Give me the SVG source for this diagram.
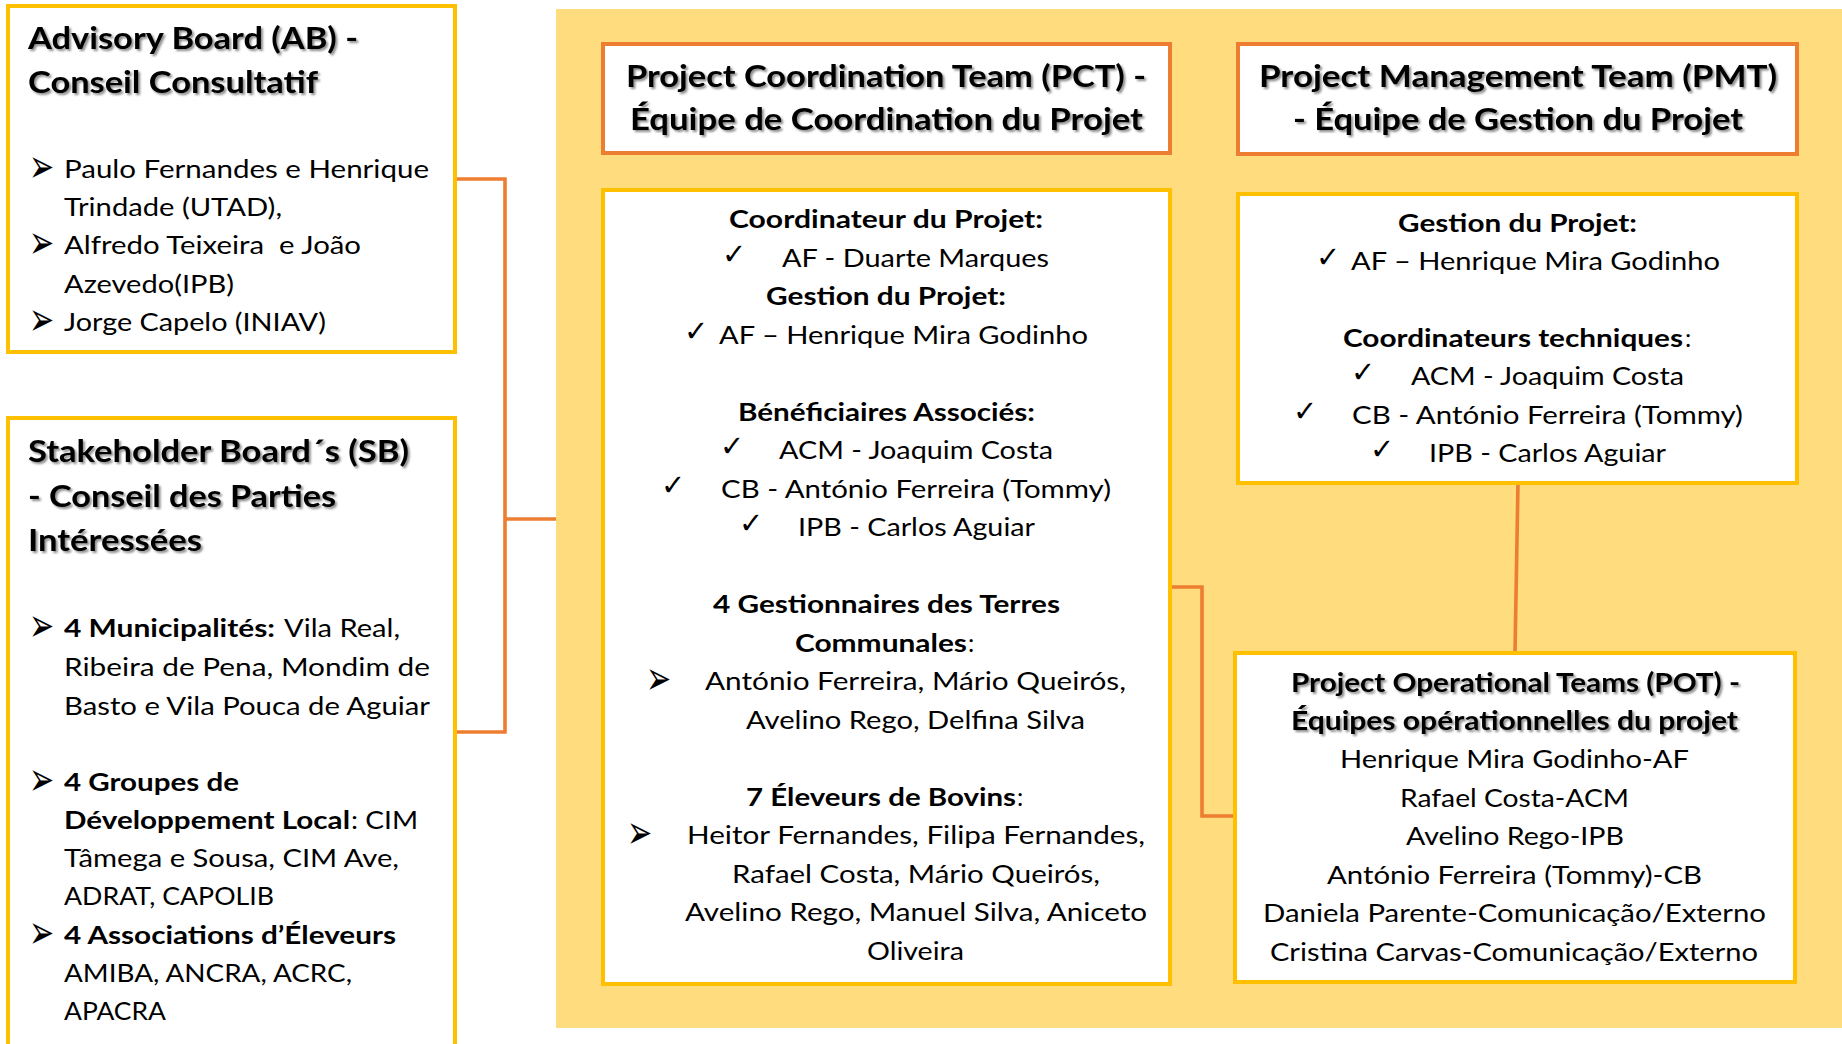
<svg xmlns="http://www.w3.org/2000/svg" width="1842" height="1044" viewBox="0 0 1842 1044">
<defs>
<filter id="sh" x="-5%" y="-30%" width="110%" height="160%">
<feDropShadow dx="2" dy="2" stdDeviation="1.3" flood-color="#000" flood-opacity="0.45"/>
</filter>
<style>
.t{font-family:Lato,'Liberation Sans',sans-serif;fill:#000;font-size:25px}
.b{font-weight:bold}
.h{font-weight:bold;font-size:30px;filter:url(#sh)}
.hp{font-weight:bold;font-size:26.5px;filter:url(#sh)}
.s{font-family:'DejaVu Sans',sans-serif;font-size:30px;fill:#000}
.k{font-family:'DejaVu Sans',sans-serif;font-size:29px;fill:#000}
.gold{fill:#fff;stroke:#FFC000;stroke-width:4}
.orng{fill:#fff;stroke:#ED7D31;stroke-width:4}
.c{fill:none;stroke:#ED7D31;stroke-width:3.6}
</style>
</defs>
<rect width="1842" height="1044" fill="#fff"/>
<g id="background">
<rect x="556" y="9" width="1300" height="1019" fill="#FFDC7E"/>
</g>
<g id="connectors">
<polyline class="c" points="455,179 505,179 505,732 455,732"/>
<line class="c" x1="505" y1="519" x2="556" y2="519"/>
<polyline class="c" points="1170,587 1202,587 1202,816 1235,816"/>
<line class="c" x1="1518" y1="483" x2="1515" y2="653"/>
</g>
<g id="advisory-board">
<rect class="gold" x="8" y="6" width="447" height="346"/>
<text class="t h" x="28" y="49" textLength="330" lengthAdjust="spacingAndGlyphs">Advisory Board (AB) -</text>
<text class="t h" x="28" y="93" textLength="290" lengthAdjust="spacingAndGlyphs">Conseil Consultatif</text>
<text class="s" transform="translate(29,182) scale(1,1.55)">➢</text>
<text class="t" x="64" y="178" textLength="365" lengthAdjust="spacingAndGlyphs">Paulo Fernandes e Henrique</text>
<text class="t" x="64" y="216" textLength="218" lengthAdjust="spacingAndGlyphs">Trindade (UTAD),</text>
<text class="s" transform="translate(29,258) scale(1,1.55)">➢</text>
<text class="t" x="64" y="254" textLength="297" lengthAdjust="spacingAndGlyphs" style="white-space:pre">Alfredo Teixeira  e João</text>
<text class="t" x="64" y="293" textLength="170" lengthAdjust="spacingAndGlyphs">Azevedo(IPB)</text>
<text class="s" transform="translate(29,335) scale(1,1.55)">➢</text>
<text class="t" x="64" y="331" textLength="262" lengthAdjust="spacingAndGlyphs">Jorge Capelo (INIAV)</text>
</g>
<g id="stakeholder-board">
<rect class="gold" x="8" y="418" width="447" height="700"/>
<text class="t h" x="28" y="462" textLength="381" lengthAdjust="spacingAndGlyphs">Stakeholder Board´s (SB)</text>
<text class="t h" x="28" y="507" textLength="308" lengthAdjust="spacingAndGlyphs">- Conseil des Parties</text>
<text class="t h" x="28" y="551" textLength="174" lengthAdjust="spacingAndGlyphs">Intéressées</text>
<text class="s" transform="translate(29,641) scale(1,1.55)">➢</text>
<text class="t b" x="64" y="637" textLength="211" lengthAdjust="spacingAndGlyphs">4 Municipalités:</text>
<text class="t" x="284" y="637" textLength="116" lengthAdjust="spacingAndGlyphs">Vila Real,</text>
<text class="t" x="64" y="676" textLength="366" lengthAdjust="spacingAndGlyphs">Ribeira de Pena, Mondim de</text>
<text class="t" x="64" y="715" textLength="366" lengthAdjust="spacingAndGlyphs">Basto e Vila Pouca de Aguiar</text>
<text class="s" transform="translate(29,795) scale(1,1.55)">➢</text>
<text class="t b" x="64" y="791" textLength="175" lengthAdjust="spacingAndGlyphs">4 Groupes de</text>
<text class="t b" x="64" y="829" textLength="286" lengthAdjust="spacingAndGlyphs">Développement Local</text>
<text class="t" x="351" y="829" textLength="67" lengthAdjust="spacingAndGlyphs">: CIM</text>
<text class="t" x="64" y="867" textLength="335" lengthAdjust="spacingAndGlyphs">Tâmega e Sousa, CIM Ave,</text>
<text class="t" x="64" y="905" textLength="210" lengthAdjust="spacingAndGlyphs">ADRAT, CAPOLIB</text>
<text class="s" transform="translate(29,948) scale(1,1.55)">➢</text>
<text class="t b" x="64" y="944" textLength="332" lengthAdjust="spacingAndGlyphs">4 Associations d’Éleveurs</text>
<text class="t" x="64" y="982" textLength="288" lengthAdjust="spacingAndGlyphs">AMIBA, ANCRA, ACRC,</text>
<text class="t" x="64" y="1020" textLength="102" lengthAdjust="spacingAndGlyphs">APACRA</text>
</g>
<g id="pct-header">
<rect class="orng" x="603" y="44" width="567" height="109"/>
<text class="t h" x="626" y="87" textLength="520" lengthAdjust="spacingAndGlyphs">Project Coordination Team (PCT) -</text>
<text class="t h" x="630" y="130" textLength="513" lengthAdjust="spacingAndGlyphs">Équipe de Coordination du Projet</text>
</g>
<g id="pct-body">
<rect class="gold" x="603" y="190" width="567" height="794"/>
<text class="t b" x="729" y="228" textLength="314" lengthAdjust="spacingAndGlyphs">Coordinateur du Projet:</text>
<text class="k" x="722" y="264">✓</text>
<text class="t" x="782" y="267" textLength="267" lengthAdjust="spacingAndGlyphs">AF - Duarte Marques</text>
<text class="t b" x="766" y="305" textLength="240" lengthAdjust="spacingAndGlyphs">Gestion du Projet:</text>
<text class="k" x="684" y="340.5">✓</text>
<text class="t" x="719" y="343.5" textLength="369" lengthAdjust="spacingAndGlyphs">AF – Henrique Mira Godinho</text>
<text class="t b" x="738" y="420.5" textLength="297" lengthAdjust="spacingAndGlyphs">Bénéficiaires Associés:</text>
<text class="k" x="720" y="456">✓</text>
<text class="t" x="779" y="459" textLength="274" lengthAdjust="spacingAndGlyphs">ACM - Joaquim Costa</text>
<text class="k" x="661" y="494.5">✓</text>
<text class="t" x="721" y="497.5" textLength="390" lengthAdjust="spacingAndGlyphs">CB - António Ferreira (Tommy)</text>
<text class="k" x="739" y="533">✓</text>
<text class="t" x="798" y="536" textLength="237" lengthAdjust="spacingAndGlyphs">IPB - Carlos Aguiar</text>
<text class="t b" x="713" y="613" textLength="347" lengthAdjust="spacingAndGlyphs">4 Gestionnaires des Terres</text>
<text class="t b" x="795" y="651.5" textLength="172" lengthAdjust="spacingAndGlyphs">Communales</text>
<text class="t" x="968" y="651.5">:</text>
<text class="s" transform="translate(646,694) scale(1,1.55)">➢</text>
<text class="t" x="705" y="690" textLength="421" lengthAdjust="spacingAndGlyphs">António Ferreira, Mário Queirós,</text>
<text class="t" x="746" y="728.5" textLength="339" lengthAdjust="spacingAndGlyphs">Avelino Rego, Delfina Silva</text>
<text class="t b" x="746" y="805.5" textLength="270" lengthAdjust="spacingAndGlyphs">7 Éleveurs de Bovins</text>
<text class="t" x="1017" y="805.5">:</text>
<text class="s" transform="translate(627,848) scale(1,1.55)">➢</text>
<text class="t" x="687" y="844" textLength="458" lengthAdjust="spacingAndGlyphs">Heitor Fernandes, Filipa Fernandes,</text>
<text class="t" x="732" y="882.5" textLength="368" lengthAdjust="spacingAndGlyphs">Rafael Costa, Mário Queirós,</text>
<text class="t" x="685" y="921" textLength="462" lengthAdjust="spacingAndGlyphs">Avelino Rego, Manuel Silva, Aniceto</text>
<text class="t" x="867" y="959.5" textLength="97" lengthAdjust="spacingAndGlyphs">Oliveira</text>
</g>
<g id="pmt-header">
<rect class="orng" x="1238" y="44" width="559" height="110"/>
<text class="t h" x="1259" y="87" textLength="518" lengthAdjust="spacingAndGlyphs">Project Management Team (PMT)</text>
<text class="t h" x="1293" y="130" textLength="450" lengthAdjust="spacingAndGlyphs">- Équipe de Gestion du Projet</text>
</g>
<g id="pmt-body">
<rect class="gold" x="1238" y="194" width="559" height="289"/>
<text class="t b" x="1398" y="232" textLength="239" lengthAdjust="spacingAndGlyphs">Gestion du Projet:</text>
<text class="k" x="1316" y="267">✓</text>
<text class="t" x="1351" y="270" textLength="369" lengthAdjust="spacingAndGlyphs">AF – Henrique Mira Godinho</text>
<text class="t b" x="1343" y="347" textLength="340" lengthAdjust="spacingAndGlyphs">Coordinateurs techniques</text>
<text class="t" x="1685" y="347">:</text>
<text class="k" x="1351" y="382">✓</text>
<text class="t" x="1411" y="385" textLength="273" lengthAdjust="spacingAndGlyphs">ACM - Joaquim Costa</text>
<text class="k" x="1293" y="420.5">✓</text>
<text class="t" x="1352" y="423.5" textLength="391" lengthAdjust="spacingAndGlyphs">CB - António Ferreira (Tommy)</text>
<text class="k" x="1370" y="459">✓</text>
<text class="t" x="1429" y="462" textLength="237" lengthAdjust="spacingAndGlyphs">IPB - Carlos Aguiar</text>
</g>
<g id="pot">
<rect class="gold" x="1235" y="653" width="560" height="329"/>
<text class="t hp" x="1291" y="692" textLength="449" lengthAdjust="spacingAndGlyphs">Project Operational Teams (POT) -</text>
<text class="t hp" x="1291" y="730" textLength="447" lengthAdjust="spacingAndGlyphs">Équipes opérationnelles du projet</text>
<text class="t" x="1340" y="768" textLength="349" lengthAdjust="spacingAndGlyphs">Henrique Mira Godinho-AF</text>
<text class="t" x="1400" y="807" textLength="229" lengthAdjust="spacingAndGlyphs">Rafael Costa-ACM</text>
<text class="t" x="1406" y="845" textLength="218" lengthAdjust="spacingAndGlyphs">Avelino Rego-IPB</text>
<text class="t" x="1327" y="883.5" textLength="375" lengthAdjust="spacingAndGlyphs">António Ferreira (Tommy)-CB</text>
<text class="t" x="1263" y="922" textLength="503" lengthAdjust="spacingAndGlyphs">Daniela Parente-Comunicação/Externo</text>
<text class="t" x="1270" y="960.5" textLength="488" lengthAdjust="spacingAndGlyphs">Cristina Carvas-Comunicação/Externo</text>
</g>
</svg>
